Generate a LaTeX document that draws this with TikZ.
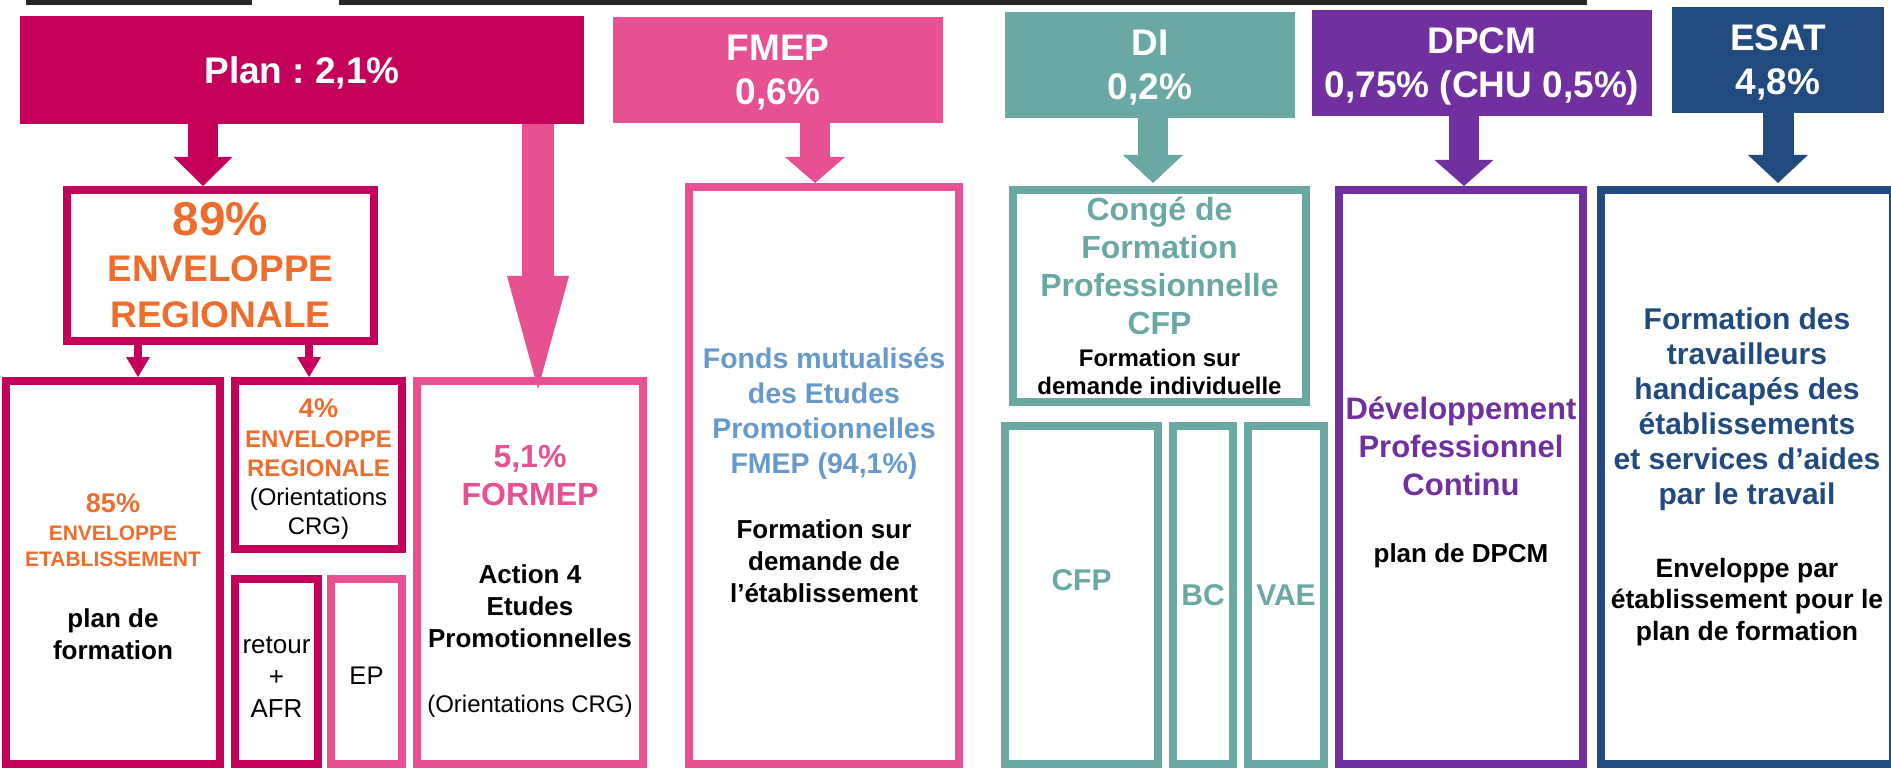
\documentclass[tikz,border=0pt]{standalone}
\usepackage{fontspec}
\setmainfont{Liberation Sans}
\usetikzlibrary{arrows.meta}
\usepackage{xcolor}
\definecolor{plancrimson}{HTML}{C4005A}
\definecolor{fmeppink}{HTML}{E75192}
\definecolor{diteal}{HTML}{6AA8A4}
\definecolor{dpcmpurple}{HTML}{70309F}
\definecolor{esatnavy}{HTML}{214A7E}
\definecolor{envorange}{HTML}{EE6D2C}
\definecolor{fondsblue}{HTML}{6699CC}
\definecolor{topbar}{HTML}{262626}
\newcommand{\fsz}[2]{\fontsize{#1}{#2}\selectfont}
\newcommand{\lift}[1]{\rule{0pt}{#1}}
\frenchspacing

\begin{document}
\begin{tikzpicture}[
    x=1pt, y=-1pt,
    banner/.style={fill=#1, text=white, inner sep=0pt, outer sep=0pt, text depth=0pt, align=center, font=\fsz{37}{44}\bfseries},
    panel/.style={draw=#1, line width=8pt, inner sep=0pt, outer sep=4pt, align=center},
    bigarrow/.style={color=#1, line width=30pt, -{Triangle[length=28pt, width=60pt, line width=0pt]}},
    smallarrow/.style={color=#1, line width=8pt, -{Triangle[length=20pt, width=24pt, line width=0pt]}},
]
\useasboundingbox (0,0) rectangle (1891,770);

% Top bars (cut off)
\fill[topbar] (26,0) rectangle (252,5);
\fill[topbar] (339,0) rectangle (1587,5);

% Header banners
\node[banner=plancrimson, minimum width=564pt, minimum height=108pt] (plan) at (302,70) {Plan : 2,1\%};
\node[banner=fmeppink, minimum width=330pt, minimum height=106pt] (fmep) at (778,70) {FMEP\\0,6\%};
\node[banner=diteal, minimum width=290pt, minimum height=106pt] (di) at (1150,65) {DI\\0,2\%};
\node[banner=dpcmpurple, minimum width=340pt, minimum height=106pt] (dpcm) at (1482,63) {DPCM\\0,75\% (CHU 0,5\%)};
\node[banner=esatnavy, minimum width=212pt, minimum height=106pt] (esat) at (1778,60) {ESAT\\4,8\%};

% Plan branch
\node[panel=plancrimson, minimum width=307pt, minimum height=151pt, text=envorange, font=\fsz{37}{46}\bfseries] (env89) at (220.5,265.5) {{\fsz{47.5}{46}89\%}\\ENVELOPPE\\REGIONALE};

\node[panel=plancrimson, minimum width=214pt, minimum height=383pt, text=envorange, font=\fsz{21}{26}\bfseries] (env85) at (113,572.5) {\lift{28pt}{\fsz{27}{26}85\%}\\[2pt]ENVELOPPE\\ETABLISSEMENT\\[35pt]{\color{black}\fsz{26}{26}plan de}\\[6pt]{\color{black}\fsz{26}{26}formation}};

\node[panel=plancrimson, minimum width=167pt, minimum height=168pt, text=envorange, font=\fsz{24}{29}\bfseries] (env4) at (318.5,465) {\lift{27pt}{\fsz{27}{29}4\%}\\[1pt]ENVELOPPE\\REGIONALE\\{\color{black}\mdseries(Orientations}\\{\color{black}\mdseries CRG)}};

\node[panel=plancrimson, minimum width=83pt, minimum height=185pt, font=\fsz{26}{32}] (retour) at (276.5,671.5) {\lift{28pt}retour\\+\\AFR};
\node[panel=fmeppink, minimum width=71pt, minimum height=185pt, font=\fsz{25.5}{32}] (ep) at (366.5,671.5) {\lift{26pt}EP};

\node[panel=fmeppink, minimum width=226pt, minimum height=383pt, font=\fsz{26}{32}\bfseries] (formep) at (530,572.5) {\lift{40pt}{\color{fmeppink}\fsz{32}{32}5,1\%}\\[6pt]{\color{fmeppink}\fsz{32}{32}FORMEP}\\[46pt]Action 4\\Etudes\\Promotionnelles\\[33pt]{\mdseries\fsz{24}{32}(Orientations CRG)}};

% FMEP branch
\node[panel=fmeppink, minimum width=270pt, minimum height=577pt, text=fondsblue, font=\fsz{28.5}{32}\bfseries] (fmepbox) at (824,475.5) {Fonds mutualisés\\[3pt]des Etudes\\[3pt]Promotionnelles\\[3pt]FMEP (94,1\%)\\[33pt]{\color{black}\fsz{26}{32}Formation sur}\\{\color{black}\fsz{26}{32}demande de}\\{\color{black}\fsz{26}{32}l’établissement}};

% DI branch
\node[panel=diteal, minimum width=293pt, minimum height=212pt, text=diteal, font=\fsz{32}{38}\bfseries] (conge) at (1159.5,296) {Congé de\\Formation\\Professionnelle\\CFP\\[-6pt]{\color{black}\fsz{24}{38}Formation sur}\\[-10pt]{\color{black}\fsz{24}{38}demande individuelle}};

\node[panel=diteal, minimum width=153pt, minimum height=338pt, text=diteal, font=\fsz{30}{36}\bfseries, text depth=30pt] (cfp) at (1081.5,595) {CFP};
\node[panel=diteal, minimum width=60pt, minimum height=338pt, text=diteal, font=\fsz{30}{36}\bfseries] (bc) at (1203,595) {BC};
\node[panel=diteal, minimum width=76pt, minimum height=338pt, text=diteal, font=\fsz{30}{36}\bfseries] (vae) at (1286,595) {VAE};

% DPCM branch
\node[panel=dpcmpurple, minimum width=244pt, minimum height=574pt, text=dpcmpurple, font=\fsz{31}{38}\bfseries] (dpcmbox) at (1461,477) {\lift{34pt}Développement\\Professionnel\\Continu\\[29pt]{\color{black}\fsz{26}{38}plan de DPCM}};

% ESAT branch
\node[panel=esatnavy, minimum width=292pt, minimum height=574pt, text=esatnavy, font=\fsz{30}{35}\bfseries] (esatbox) at (1747,477) {Formation des\\travailleurs\\handicapés des\\établissements\\et services d’aides\\par le travail\\[38pt]{\color{black}\fsz{26.5}{35}Enveloppe par}\\[-4pt]{\color{black}\fsz{26.5}{35}établissement pour le}\\[-3pt]{\color{black}\fsz{26.5}{35}plan de formation}};

% Arrows
\draw[bigarrow=plancrimson, -{Triangle[length=29pt, width=59pt, line width=0pt]}] (plan.south -| 203,0) -- (env89.north -| 203,0);
\draw[bigarrow=fmeppink, line width=32pt, -{Triangle[length=113pt, width=62pt, line width=0pt]}] (plan.south -| 538,0) -- ([yshift=-12pt]formep.north -| 538,0);
\draw[smallarrow=plancrimson] (env89.south -| 138,0) -- (env85.north -| 138,0);
\draw[smallarrow=plancrimson] (env89.south -| 309,0) -- (env4.north -| 309,0);
\draw[bigarrow=fmeppink, -{Triangle[length=26pt, width=60pt, line width=0pt]}] (fmep.south -| 815,0) -- (fmepbox.north -| 815,0);
\draw[bigarrow=diteal] (di.south -| 1153,0) -- ([yshift=3pt]conge.north -| 1153,0);
\draw[bigarrow=dpcmpurple, -{Triangle[length=26pt, width=59pt, line width=0pt]}] (dpcm.south -| 1464,0) -- (dpcmbox.north -| 1464,0);
\draw[bigarrow=esatnavy, line width=31pt] (esat.south -| 1778,0) -- ([yshift=3pt]esatbox.north -| 1778,0);

\end{tikzpicture}
\end{document}
